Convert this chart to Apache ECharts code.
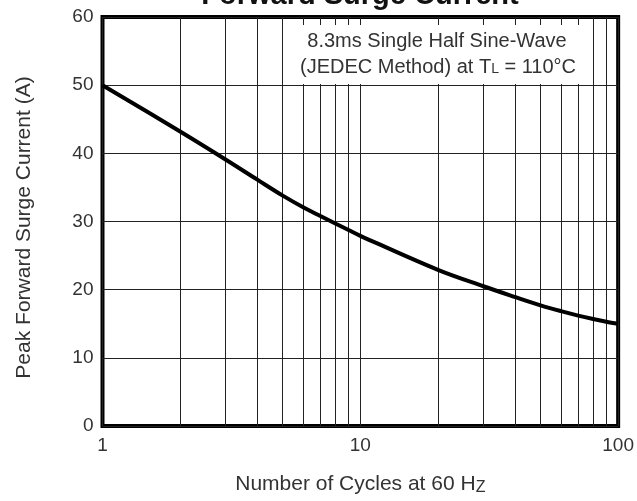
<!DOCTYPE html>
<html>
<head>
<meta charset="utf-8">
<script src="https://cdn.jsdelivr.net/npm/echarts@6/dist/echarts.min.js"></script>
<style>
  html, body { margin: 0; padding: 0; background: #fff; }
  #chart { width: 637px; height: 501px; }
</style>
</head>
<body>
<div id="chart"></div>
<script>
// ---- data ----
const cycles = [1, 2, 3, 4, 5, 6, 7, 8, 9, 10, 20, 30, 40, 50, 60, 70, 80, 90, 100];
const surgeCurrent = [50, 43.2, 39.1, 36.1, 33.8, 32.1, 30.8, 29.7, 28.75, 27.9, 22.9, 20.5, 18.9, 17.7, 16.85, 16.2, 15.7, 15.3, 15.0];
const minorGridX = [2, 3, 4, 5, 6, 7, 8, 9, 20, 30, 40, 50, 60, 70, 80, 90];
const yMin = 0, yMax = 60, yStep = 10;
const xMin = 1, xMax = 100;
const titleText = 'Forward Surge Current';
const yTitle = 'Peak Forward Surge Current (A)';
const noteLine1 = '8.3ms Single Half Sine-Wave';

const FONT = '"Liberation Sans", Arial, sans-serif';
const TXT = '#333';
const GRIDC = '#222';

const chart = echarts.init(document.getElementById('chart'), null, { renderer: 'canvas' });

chart.setOption({
  animation: false,
  backgroundColor: '#fff',
  grid: {
    left: 102.5, right: 18.5, top: 17, bottom: 71.5,
    show: true, borderColor: '#000', borderWidth: 4, backgroundColor: 'transparent'
  },
  xAxis: {
    type: 'log', logBase: 10, min: xMin, max: xMax,
    name: '{a|Number of Cycles at 60 H}{z|Z}',
    nameLocation: 'middle', nameGap: 47,
    nameTextStyle: {
      rich: {
        a: { fontFamily: FONT, fontSize: 21, color: TXT },
        z: { fontFamily: FONT, fontSize: 16, color: TXT, padding: [7, 0, 0, 0] }
      }
    },
    axisLine: { show: false },
    axisTick: { show: false },
    axisLabel: { margin: 10, fontFamily: FONT, fontSize: 19, color: TXT },
    splitLine: { show: true, lineStyle: { color: GRIDC, width: 1 } }
  },
  yAxis: {
    type: 'value', min: yMin, max: yMax, interval: yStep,
    name: yTitle, nameLocation: 'middle', nameGap: 68, nameRotate: 90,
    nameTextStyle: { fontFamily: FONT, fontSize: 21, color: TXT, padding: [0, 0, 0, -12] },
    axisLine: { show: false },
    axisTick: { show: false },
    axisLabel: { margin: 9, fontFamily: FONT, fontSize: 19, color: TXT },
    splitLine: { show: true, lineStyle: { color: GRIDC, width: 1 } }
  },
  series: [{
    type: 'line',
    data: cycles.map((c, i) => [c, surgeCurrent[i]]),
    smooth: 0.35,
    symbol: 'none',
    lineStyle: { color: '#000', width: 4 },
    z: 5,
    markLine: {
      silent: true,
      symbol: 'none',
      label: { show: false },
      lineStyle: { color: GRIDC, width: 1, type: 'solid' },
      data: minorGridX.map(v => ({ xAxis: v }))
    }
  }],
  graphic: [
    {
      type: 'text', z: 101, x: 360, y: -4,
      style: {
        text: titleText, font: 'bold 29px ' + FONT, fill: '#111',
        textAlign: 'center', textVerticalAlign: 'middle'
      }
    },
    {
      type: 'rect', z: 100,
      shape: { x: 292, y: 25, width: 293, height: 59 },
      style: { fill: '#fff', stroke: null }
    },
    {
      type: 'text', z: 101, x: 437, y: 41,
      style: {
        text: noteLine1, font: '20px ' + FONT, fill: TXT,
        textAlign: 'center', textVerticalAlign: 'middle'
      }
    },
    {
      type: 'text', z: 101, x: 438, y: 67,
      style: {
        text: '{a|(JEDEC Method) at T}{l|L}{a| = 110°C}',
        fill: TXT,
        textAlign: 'center', textVerticalAlign: 'middle',
        rich: {
          a: { fontFamily: FONT, fontSize: 20, fill: TXT },
          l: { fontFamily: FONT, fontSize: 14, fill: TXT, padding: [4, 0, 0, 0] }
        }
      }
    }
  ]
});
</script>
</body>
</html>
